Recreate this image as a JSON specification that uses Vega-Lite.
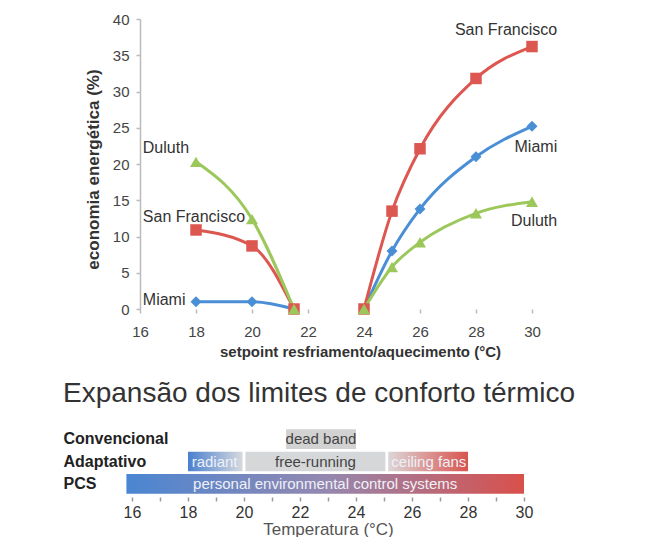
{
  "$schema": "https://vega.github.io/schema/vega-lite/v6.json",
  "padding": {"left": 63, "top": 12, "right": 5, "bottom": 0},
  "background": "white",
  "config": {"font": "Liberation Sans", "view": {"stroke": null}, "concat": {"spacing": 21}},
  "datasets": {
    "savings": [
      {"city": "Miami", "branch": "heating", "setpoint": 18, "saving": 1.0},
      {"city": "Miami", "branch": "heating", "setpoint": 20, "saving": 1.0},
      {"city": "Miami", "branch": "heating", "setpoint": 21.5, "saving": 0},
      {"city": "Miami", "branch": "cooling", "setpoint": 24, "saving": 0},
      {"city": "Miami", "branch": "cooling", "setpoint": 25, "saving": 8.0},
      {"city": "Miami", "branch": "cooling", "setpoint": 26, "saving": 13.8},
      {"city": "Miami", "branch": "cooling", "setpoint": 28, "saving": 21.0},
      {"city": "Miami", "branch": "cooling", "setpoint": 30, "saving": 25.2},
      {"city": "San Francisco", "branch": "heating", "setpoint": 18, "saving": 10.9},
      {"city": "San Francisco", "branch": "heating", "setpoint": 20, "saving": 8.7},
      {"city": "San Francisco", "branch": "heating", "setpoint": 21.5, "saving": 0},
      {"city": "San Francisco", "branch": "cooling", "setpoint": 24, "saving": 0},
      {"city": "San Francisco", "branch": "cooling", "setpoint": 25, "saving": 13.5},
      {"city": "San Francisco", "branch": "cooling", "setpoint": 26, "saving": 22.1},
      {"city": "San Francisco", "branch": "cooling", "setpoint": 28, "saving": 31.8},
      {"city": "San Francisco", "branch": "cooling", "setpoint": 30, "saving": 36.2},
      {"city": "Duluth", "branch": "heating", "setpoint": 18, "saving": 20.3},
      {"city": "Duluth", "branch": "heating", "setpoint": 20, "saving": 12.4},
      {"city": "Duluth", "branch": "heating", "setpoint": 21.5, "saving": 0},
      {"city": "Duluth", "branch": "cooling", "setpoint": 24, "saving": 0},
      {"city": "Duluth", "branch": "cooling", "setpoint": 25, "saving": 5.8},
      {"city": "Duluth", "branch": "cooling", "setpoint": 26, "saving": 9.2},
      {"city": "Duluth", "branch": "cooling", "setpoint": 28, "saving": 13.2},
      {"city": "Duluth", "branch": "cooling", "setpoint": 30, "saving": 14.8}
    ],
    "labels": [
      {"text": "Duluth", "side": "left", "setpoint": 16.1, "saving": 22.2},
      {"text": "San Francisco", "side": "left", "setpoint": 16.1, "saving": 12.7},
      {"text": "Miami", "side": "left", "setpoint": 16.1, "saving": 1.3},
      {"text": "San Francisco", "side": "right", "setpoint": 30.9, "saving": 38.5},
      {"text": "Miami", "side": "right", "setpoint": 30.9, "saving": 22.3},
      {"text": "Duluth", "side": "right", "setpoint": 30.9, "saving": 12.1}
    ],
    "bands": [
      {"row": "Convencional", "name": "dead band", "start": 21.5, "end": 24.0, "mid": 22.75},
      {"row": "Adaptativo", "name": "radiant", "start": 18.0, "end": 19.95, "mid": 18.95},
      {"row": "Adaptativo", "name": "free-running", "start": 20.05, "end": 25.05, "mid": 22.55},
      {"row": "Adaptativo", "name": "ceiling fans", "start": 25.15, "end": 28.0, "mid": 26.6},
      {"row": "PCS", "name": "personal environmental control systems", "start": 15.8, "end": 30.0, "mid": 22.9}
    ]
  },
  "vconcat": [
    {
      "width": 435,
      "height": 290,
      "encoding": {
        "x": {
          "field": "setpoint", "type": "quantitative",
          "scale": {"domain": [15.464, 31], "nice": false, "zero": false},
          "axis": {
            "values": [16, 18, 20, 22, 24, 26, 28, 30],
            "domain": false, "grid": false,
            "tickColor": "#bbbbbb", "tickSize": 4, "tickWidth": 1.5,
            "labelFontSize": 15, "labelColor": "#444444", "labelPadding": 11, "labelFlush": false,
            "title": "setpoint resfriamento/aquecimento (°C)",
            "titleFontSize": 15, "titleFontWeight": "bold", "titleColor": "#333333",
            "titlePadding": 5, "titleX": 235
          }
        },
        "y": {
          "field": "saving", "type": "quantitative",
          "scale": {"domain": [0, 40], "nice": false},
          "axis": {
            "values": [0, 5, 10, 15, 20, 25, 30, 35, 40],
            "offset": -15, "grid": false,
            "domainColor": "#bbbbbb", "domainWidth": 1.5,
            "tickColor": "#bbbbbb", "tickSize": 4, "tickWidth": 1.5,
            "labelFontSize": 15, "labelColor": "#444444", "labelPadding": 7,
            "title": "economia energética (%)",
            "titleFontSize": 17, "titleFontWeight": "bold", "titleColor": "#333333",
            "titlePadding": 10, "titleY": 150
          }
        }
      },
      "layer": [
        {
          "data": {"values": [{}]},
          "mark": {"type": "rule", "color": "#bbbbbb", "strokeWidth": 1.5},
          "encoding": {
            "x": {"datum": 16, "type": "quantitative"},
            "x2": {"datum": 31},
            "y": {"datum": 0, "type": "quantitative"}
          }
        },
        {
          "data": {"name": "savings"},
          "mark": {"type": "line", "interpolate": "monotone", "strokeWidth": 3},
          "encoding": {
            "color": {
              "field": "city", "type": "nominal",
              "scale": {"domain": ["Miami", "San Francisco", "Duluth"], "range": ["#4a8fd6", "#dd5751", "#9cc85b"]},
              "legend": null
            },
            "detail": {"field": "branch"}
          }
        },
        {
          "data": {"name": "savings"},
          "mark": {"type": "point", "filled": true, "opacity": 1},
          "encoding": {
            "color": {"field": "city", "type": "nominal", "legend": null},
            "shape": {
              "field": "city", "type": "nominal",
              "scale": {"domain": ["Miami", "San Francisco", "Duluth"], "range": ["diamond", "square", "triangle-up"]},
              "legend": null
            },
            "size": {
              "field": "city", "type": "nominal",
              "scale": {"domain": ["Miami", "San Francisco", "Duluth"], "range": [120, 144, 150]},
              "legend": null
            }
          }
        },
        {
          "data": {"name": "labels"},
          "transform": [{"filter": "datum.side === 'left'"}],
          "mark": {"type": "text", "align": "left", "baseline": "middle", "fontSize": 16, "color": "#333333"},
          "encoding": {"text": {"field": "text"}}
        },
        {
          "data": {"name": "labels"},
          "transform": [{"filter": "datum.side === 'right'"}],
          "mark": {"type": "text", "align": "right", "baseline": "middle", "fontSize": 16, "color": "#333333"},
          "encoding": {"text": {"field": "text"}}
        }
      ]
    },
    {
      "width": 406,
      "height": 67,
      "title": {
        "text": "Expansão dos limites de conforto térmico",
        "anchor": "start", "frame": "bounds",
        "fontSize": 28, "fontWeight": "normal", "color": "#333333", "offset": 20
      },
      "data": {"name": "bands"},
      "encoding": {
        "y": {
          "field": "row", "type": "nominal",
          "scale": {"domain": ["Convencional", "Adaptativo", "PCS"], "paddingInner": 0.12, "paddingOuter": 0.06},
          "axis": {
            "title": null, "domain": false, "ticks": false, "tickSize": 0,
            "labelAlign": "left", "labelPadding": 62,
            "labelFontSize": 16, "labelFontWeight": "bold", "labelColor": "#222222"
          }
        },
        "x": {
          "field": "start", "type": "quantitative",
          "scale": {"domain": [15.75, 30.25], "nice": false, "zero": false},
          "axis": {
            "values": [16, 17, 18, 19, 20, 21, 22, 23, 24, 25, 26, 27, 28, 29, 30],
            "labelExpr": "datum.value % 2 === 0 ? datum.label : ''",
            "labelOverlap": false, "labelFlush": false,
            "domain": false, "grid": false,
            "tickColor": "#999999", "tickSize": 4, "tickWidth": 1.5, "offset": 2,
            "labelFontSize": 16, "labelColor": "#333333", "labelPadding": 3,
            "title": "Temperatura (°C)",
            "titleFontSize": 17, "titleFontWeight": "normal", "titleColor": "#555555",
            "titlePadding": 1
          }
        }
      },
      "layer": [
        {
          "transform": [{"filter": "datum.name === 'dead band'"}],
          "mark": {"type": "bar", "fill": "#d2d2d2"},
          "encoding": {"x2": {"field": "end"}}
        },
        {
          "transform": [{"filter": "datum.name === 'radiant'"}],
          "mark": {"type": "bar", "fill": {"gradient": "linear", "x1": 0, "x2": 1, "y1": 0, "y2": 0, "stops": [{"offset": 0, "color": "#4a80cf"}, {"offset": 1, "color": "#d6d9de"}]}},
          "encoding": {"x2": {"field": "end"}}
        },
        {
          "transform": [{"filter": "datum.name === 'free-running'"}],
          "mark": {"type": "bar", "fill": "#d5d7d9"},
          "encoding": {"x2": {"field": "end"}}
        },
        {
          "transform": [{"filter": "datum.name === 'ceiling fans'"}],
          "mark": {"type": "bar", "fill": {"gradient": "linear", "x1": 0, "x2": 1, "y1": 0, "y2": 0, "stops": [{"offset": 0, "color": "#dcd6d8"}, {"offset": 1, "color": "#d9534e"}]}},
          "encoding": {"x2": {"field": "end"}}
        },
        {
          "transform": [{"filter": "datum.row === 'PCS'"}],
          "mark": {"type": "bar", "fill": {"gradient": "linear", "x1": 0, "x2": 1, "y1": 0, "y2": 0, "stops": [{"offset": 0, "color": "#4a86d2"}, {"offset": 0.5, "color": "#9488b0"}, {"offset": 1, "color": "#d9504b"}]}},
          "encoding": {"x2": {"field": "end"}}
        },
        {
          "transform": [{"filter": "datum.name === 'dead band' || datum.name === 'free-running'"}],
          "mark": {"type": "text", "align": "center", "baseline": "middle", "fontSize": 15, "color": "#444444"},
          "encoding": {"x": {"field": "mid", "type": "quantitative"}, "text": {"field": "name"}}
        },
        {
          "transform": [{"filter": "datum.name === 'radiant' || datum.name === 'ceiling fans' || datum.row === 'PCS'"}],
          "mark": {"type": "text", "align": "center", "baseline": "middle", "fontSize": 15, "color": "#eef1f8"},
          "encoding": {"x": {"field": "mid", "type": "quantitative"}, "text": {"field": "name"}}
        }
      ]
    }
  ]
}
